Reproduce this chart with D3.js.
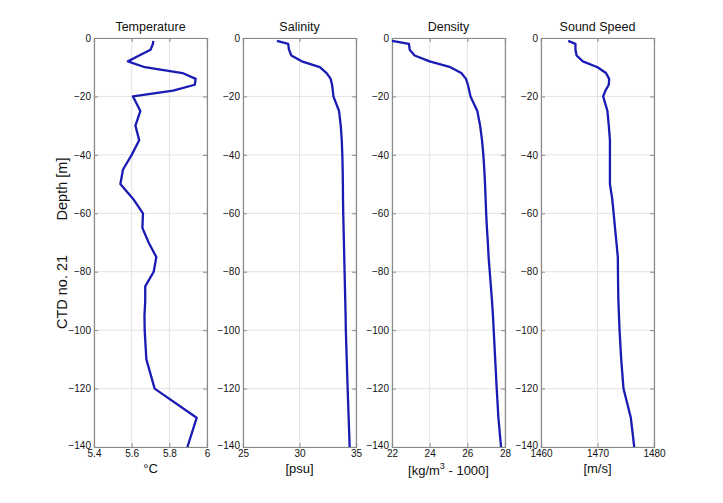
<!DOCTYPE html>
<html><head><meta charset="utf-8">
<script src="https://cdn.jsdelivr.net/npm/d3@7"></script>
<style>
body{margin:0;background:#fff;}
svg{display:block;font-family:"Liberation Sans",Arial,sans-serif;}
</style></head>
<body>
<svg id="chart" width="723" height="503"></svg>
<script>
const depth = [1, 2, 4, 6, 8, 10, 12, 14, 16, 18, 20, 25, 30, 35, 40, 45, 50, 55, 60, 65, 70, 75, 80, 85, 90, 95, 100, 110, 120, 130, 140];
const temperature = [5.715, 5.713, 5.70, 5.64, 5.58, 5.67, 5.87, 5.94, 5.935, 5.82, 5.607, 5.646, 5.62, 5.64, 5.60, 5.554, 5.54, 5.607, 5.66, 5.657, 5.69, 5.731, 5.717, 5.672, 5.672, 5.668, 5.669, 5.678, 5.722, 5.945, 5.896];
const salinity = [28.0, 29.0, 29.07, 29.28, 30.2, 31.8, 32.4, 32.76, 32.88, 32.95, 33.0, 33.5, 33.65, 33.74, 33.79, 33.82, 33.84, 33.85, 33.87, 33.9, 33.93, 33.96, 33.99, 34.02, 34.05, 34.08, 34.1, 34.18, 34.26, 34.35, 34.44];
const density = [22.0, 22.9, 22.94, 23.2, 24.0, 25.1, 25.68, 25.93, 26.03, 26.1, 26.17, 26.53, 26.68, 26.78, 26.85, 26.9, 26.94, 26.97, 27.0, 27.04, 27.09, 27.13, 27.19, 27.25, 27.31, 27.36, 27.4, 27.48, 27.56, 27.65, 27.79];
const soundSpeed = [1464.8, 1466.1, 1466.1, 1466.3, 1467.4, 1470.0, 1471.5, 1472.06, 1472.0, 1471.4, 1471.0, 1471.76, 1472.0, 1472.2, 1472.2, 1472.2, 1472.2, 1472.6, 1472.86, 1473.1, 1473.35, 1473.6, 1473.62, 1473.65, 1473.7, 1473.8, 1473.9, 1474.2, 1474.6, 1475.9, 1476.5];

const titles = ["Temperature", "Salinity", "Density", "Sound Speed"];
const xDomains = [[5.4, 6], [25, 35], [22, 28], [1460, 1480]];
const xTicks = [[5.4, 5.6, 5.8, 6], [25, 30, 35], [22, 24, 26, 28], [1460, 1470, 1480]];
const yTicks = [0, -20, -40, -60, -80, -100, -120, -140];
const series = [temperature, salinity, density, soundSpeed];

const svg = d3.select("#chart");
const plotTop = 38, plotBottom = 447, pw = 113;
const lefts = [94, 243, 392, 541];
const y = d3.scaleLinear().domain([0, -140]).range([plotTop, plotBottom]);

const lineColor = "#1a1ab4", axisColor = "#8a8a8a", gridColor = "#e3e3e3";
const FONT = "'Liberation Sans',Arial,sans-serif";

series.forEach((vals, i) => {
  const x0 = lefts[i];
  const x = d3.scaleLinear().domain(xDomains[i]).range([x0, x0 + pw]);
  const g = svg.append("g");
  g.selectAll(".gx").data(xTicks[i]).join("line")
    .attr("x1", d => x(d)).attr("x2", d => x(d)).attr("y1", plotTop).attr("y2", plotBottom)
    .attr("stroke", gridColor).attr("stroke-width", 1);
  g.selectAll(".gy").data(yTicks).join("line")
    .attr("x1", x0).attr("x2", x0 + pw).attr("y1", d => y(d)).attr("y2", d => y(d))
    .attr("stroke", gridColor).attr("stroke-width", 1);
  const ax = g.append("g").attr("transform", `translate(0,${plotBottom})`)
    .call(d3.axisBottom(x).tickValues(xTicks[i]).tickSize(-4).tickPadding(3).tickFormat(d3.format("")));
  const axT = g.append("g").attr("transform", `translate(0,${plotTop})`)
    .call(d3.axisTop(x).tickValues(xTicks[i]).tickSize(-4).tickFormat(""));
  const ay = g.append("g").attr("transform", `translate(${x0},0)`)
    .call(d3.axisLeft(y).tickValues(yTicks).tickSize(-4).tickPadding(3));
  const ayR = g.append("g").attr("transform", `translate(${x0 + pw},0)`)
    .call(d3.axisRight(y).tickValues(yTicks).tickSize(-4).tickFormat(""));
  [ax, axT, ay, ayR].forEach(a => {
    a.selectAll("path").attr("stroke", axisColor).attr("stroke-width", 1.2);
    a.selectAll("line").attr("stroke", axisColor);
    a.selectAll("text").attr("fill", "#111").style("font-size", "10px").style("font-family", FONT);
  });
  ay.selectAll(".tick").filter(d => d === -140).select("text").attr("dy", "0.1em");
  const data = depth.map((dv, k) => [vals[k], -dv]);
  g.append("path").datum(data)
    .attr("fill", "none").attr("stroke", lineColor).attr("stroke-width", 2.3)
    .attr("stroke-linejoin", "round")
    .attr("d", d3.line().x(d => x(d[0])).y(d => y(d[1])));
  svg.append("text").attr("x", x0 + pw / 2).attr("y", 31).attr("text-anchor", "middle")
    .style("font-size", "12.5px").attr("fill", "#111").text(titles[i]);
});

const xl = [
  {x: lefts[0] + pw / 2, t: "°C"},
  {x: lefts[1] + pw / 2, t: "[psu]"},
  {x: lefts[3] + pw / 2, t: "[m/s]"}
];
xl.forEach(o => svg.append("text").attr("x", o.x).attr("y", 473).attr("text-anchor", "middle")
  .style("font-size", "13px").attr("fill", "#111").text(o.t));
const dl = svg.append("text").attr("x", lefts[2] + pw / 2).attr("y", 475).attr("text-anchor", "middle")
  .style("font-size", "13px").attr("fill", "#111");
dl.append("tspan").text("[kg/m");
dl.append("tspan").attr("dy", -6).style("font-size", "9px").text("3");
dl.append("tspan").attr("dy", 6).text(" - 1000]");

svg.append("text").attr("transform", "translate(67,189) rotate(-90)").attr("text-anchor", "middle")
  .style("font-size", "14.5px").attr("fill", "#111").text("Depth [m]");
svg.append("text").attr("transform", "translate(67,292) rotate(-90)").attr("text-anchor", "middle")
  .style("font-size", "14.5px").attr("fill", "#111").text("CTD no. 21");
</script>
</body></html>
